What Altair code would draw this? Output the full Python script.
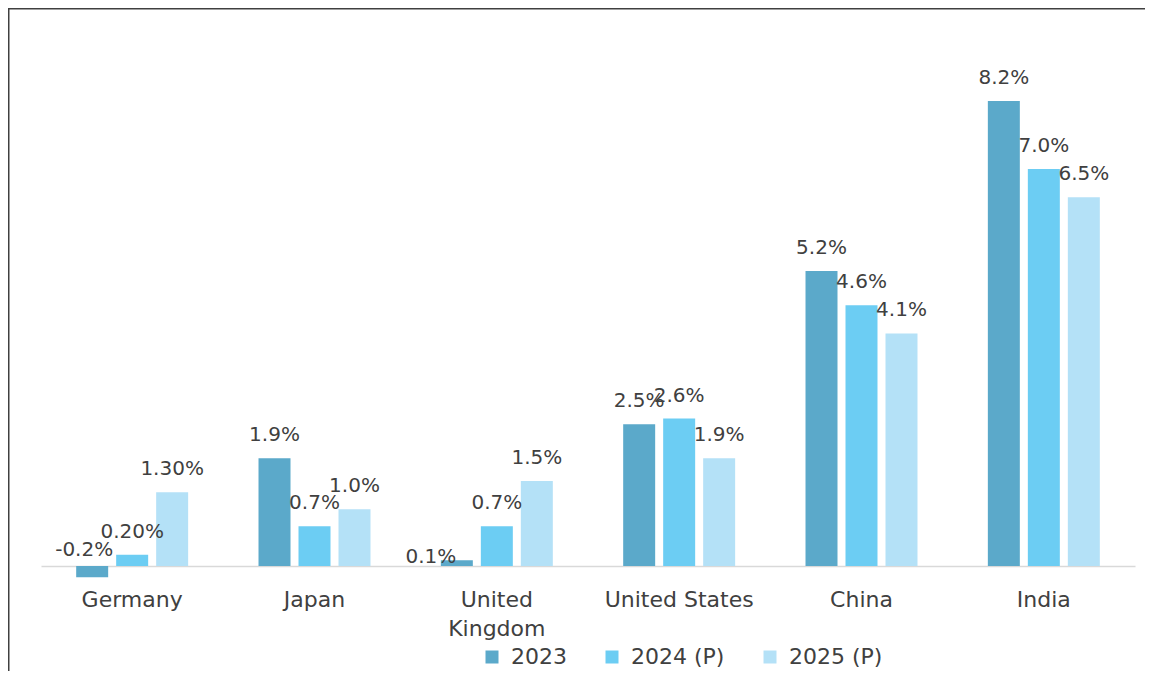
import altair as alt
import pandas as pd

countries = ["Germany", "Japan", "United Kingdom", "United States", "China", "India"]
years = ["2023", "2024 (P)", "2025 (P)"]
v2023 = [-0.2, 1.9, 0.1, 2.5, 5.2, 8.2]
v2024 = [0.2, 0.7, 0.7, 2.6, 4.6, 7.0]
v2025 = [1.3, 1.0, 1.5, 1.9, 4.1, 6.5]
lab2023 = ["-0.2%", "1.9%", "0.1%", "2.5%", "5.2%", "8.2%"]
lab2024 = ["0.20%", "0.7%", "0.7%", "2.6%", "4.6%", "7.0%"]
lab2025 = ["1.30%", "1.0%", "1.5%", "1.9%", "4.1%", "6.5%"]
colors = ["#5ba9ca", "#6ccdf3", "#b4e1f7"]

rows = []
for yr, vals, labs in zip(years, [v2023, v2024, v2025], [lab2023, lab2024, lab2025]):
    for c, v, l in zip(countries, vals, labs):
        rows.append({"country": c, "year": yr, "value": v, "label": l, "ly": max(v, 0)})
df = pd.DataFrame(rows)

FONT = "DejaVu Sans"
TXT = "#404040"
W, H = 1094, 526

x_enc = alt.X("country:N", sort=countries,
              scale=alt.Scale(paddingInner=0.342, paddingOuter=0.171),
              axis=alt.Axis(title=None, labelAngle=0, ticks=False, tickSize=0,
                            domainColor="#d9d9d9", domainWidth=1.5,
                            labelFont=FONT, labelFontSize=22, labelColor=TXT,
                            labelBaseline="alphabetic", labelPadding=40,
                            labelLineHeight=29, labelOverlap=False,
                            labelExpr="datum.label == 'United Kingdom' ? ['United', 'Kingdom'] : datum.label"))
xo_enc = alt.XOffset("year:N", sort=years, scale=alt.Scale(paddingInner=0.2, paddingOuter=0.1))
y_scale = alt.Scale(domain=[0, 9.275], nice=False, zero=False)

base = alt.Chart(df)

bars = base.mark_bar().encode(
    x=x_enc,
    xOffset=xo_enc,
    y=alt.Y("value:Q", scale=y_scale, axis=None),
    y2=alt.datum(0),
    color=alt.Color("year:N", sort=years, scale=alt.Scale(domain=years, range=colors),
                    legend=alt.Legend(orient="none", legendX=440, legendY=606,
                                      direction="horizontal", title=None,
                                      symbolType="square", symbolSize=169,
                                      symbolStrokeWidth=0, labelFont=FONT,
                                      labelFontSize=22, labelColor=TXT,
                                      columnPadding=34, labelOffset=8, padding=0)),
)

def labels(filt, dx=0, dy=-17):
    return base.transform_filter(filt).mark_text(
        font=FONT, fontSize=20, color=TXT, baseline="alphabetic", align="center", dx=dx, dy=dy
    ).encode(
        x=alt.X("country:N", sort=countries),
        xOffset=alt.XOffset("year:N", sort=years),
        y=alt.Y("ly:Q", scale=y_scale),
        text="label:N",
    )

main_lab = labels("!((datum.country == 'Germany' || datum.country == 'United Kingdom') && datum.year == '2023')")
ger_lab = labels("datum.country == 'Germany' && datum.year == '2023'", dx=-8, dy=-10)
uk_lab = labels("datum.country == 'United Kingdom' && datum.year == '2023'", dx=-26, dy=3)

frame_df = pd.DataFrame({"a": [0]})
top_rule = alt.Chart(frame_df).mark_rule(color="#404040", strokeWidth=1.5).encode(
    x=alt.value(-33), x2=alt.value(W + 10), y=alt.value(-31.25))
left_rule = alt.Chart(frame_df).mark_rule(color="#404040", strokeWidth=1.5).encode(
    x=alt.value(-32.25), y=alt.value(-32), y2=alt.value(H + 106))

chart = alt.layer(bars, main_lab, ger_lab, uk_lab, top_rule, left_rule).properties(
    width=W, height=H,
    padding={"left": 33, "top": 32, "right": 10, "bottom": 105},
    autosize=alt.AutoSizeParams(type="none"),
).configure_view(stroke=None)

chart.save("out.html", embed_options={"renderer": "svg", "actions": False})
